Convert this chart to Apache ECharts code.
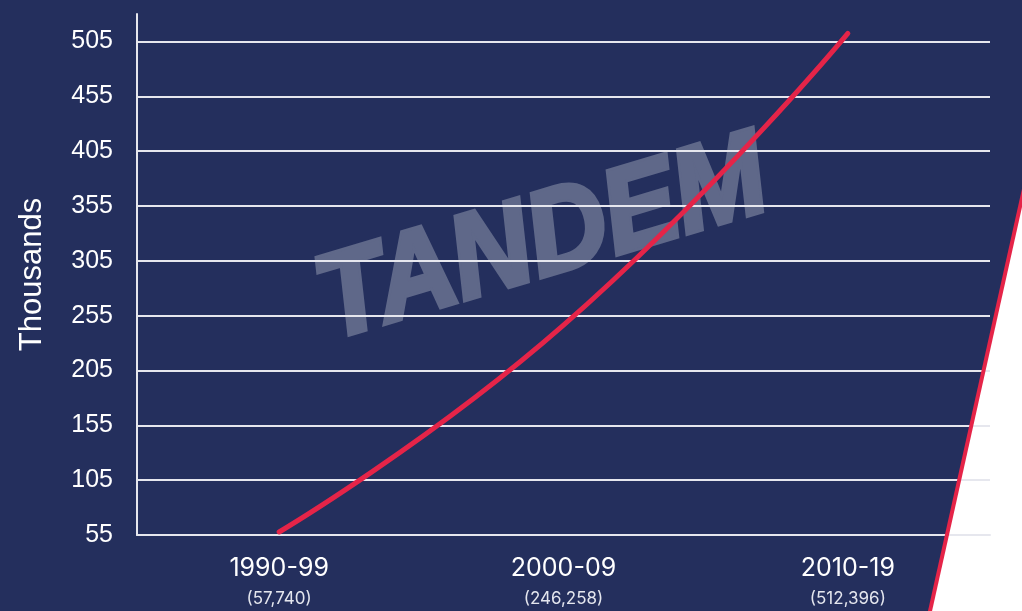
<!DOCTYPE html>
<html>
<head>
<meta charset="utf-8">
<script src="https://cdn.jsdelivr.net/npm/echarts@6/dist/echarts.min.js"></script>
<style>
  html, body { margin: 0; padding: 0; background: #242f5d; }
  #chart { width: 1022px; height: 611px; }
</style>
</head>
<body>
<div id="chart"></div>
<script>
// decades and totals (thousands)
const categories = ['1990-99', '2000-09', '2010-19'];
const totals = ['57,740', '246,258', '512,396'];
const values = [57.74, 246.258, 512.396];

const yMin = 55, yMax = 530, yStep = 50;

const navy = '#242f5d';
const red = '#e52448';
const grid = '#e6e7ee';

// one colour per split line, the last one (at max) hidden
const splitColors = [];
for (let v = yMin; v < yMax; v += yStep) splitColors.push(grid);
splitColors.push('rgba(0,0,0,0)');

var myChart = echarts.init(document.getElementById('chart'));
myChart.setOption({
  backgroundColor: navy,
  animation: false,
  grid: { left: 137, right: 32, top: 14, bottom: 76 },
  graphic: [
    {
      type: 'polygon', z: -10, silent: true,
      shape: { points: [[1022, 198], [930, 611], [1022, 611]] },
      style: { fill: '#ffffff' }
    },
    {
      type: 'line', z: 10, silent: true,
      shape: { x1: 1030, y1: 162, x2: 928, y2: 620 },
      style: { stroke: red, lineWidth: 4 }
    },
    {
      // watermark
      type: 'text', z: -5, silent: true,
      x: 543, y: 242, rotation: 0.29, scaleY: 1.08,
      style: {
        text: 'TANDEM',
        font: 'italic bold 110px "Liberation Sans", Arial, sans-serif',
        fill: '#5f6889',
        stroke: '#5f6889',
        lineWidth: 5,
        lineJoin: 'round',
        align: 'center', verticalAlign: 'middle'
      }
    }
  ],
  xAxis: {
    type: 'category',
    data: categories,
    boundaryGap: true,
    axisLine: { lineStyle: { color: grid, width: 2 } },
    axisTick: { show: false },
    axisLabel: {
      margin: 17,
      formatter: function (v, i) {
        return '{a|' + v + '}\n{b|(' + totals[i] + ')}';
      },
      rich: {
        a: { color: '#ffffff', fontSize: 25, fontFamily: 'Inter, sans-serif', lineHeight: 33 },
        b: { color: '#e4e6ee', fontSize: 17, fontFamily: 'Inter, sans-serif', lineHeight: 27 }
      }
    }
  },
  yAxis: {
    type: 'value',
    min: yMin,
    max: yMax,
    interval: yStep,
    name: 'Thousands',
    nameLocation: 'middle',
    nameGap: 89,
    nameTextStyle: { color: '#ffffff', fontSize: 31, fontFamily: '"Liberation Sans", Arial, sans-serif' },
    axisLine: { show: true, lineStyle: { color: grid, width: 2 } },
    axisTick: { show: false },
    axisLabel: {
      color: '#ffffff',
      fontSize: 25,
      margin: 24,
      fontFamily: '"Liberation Sans", Arial, sans-serif',
      showMaxLabel: false
    },
    splitLine: { show: true, lineStyle: { color: splitColors, width: 2 } }
  },
  series: [
    {
      type: 'line',
      data: values,
      smooth: 0.5,
      clip: false,
      symbol: 'none',
      z: 5,
      lineStyle: { color: red, width: 5, cap: 'round' }
    }
  ]
});
</script>
</body>
</html>
